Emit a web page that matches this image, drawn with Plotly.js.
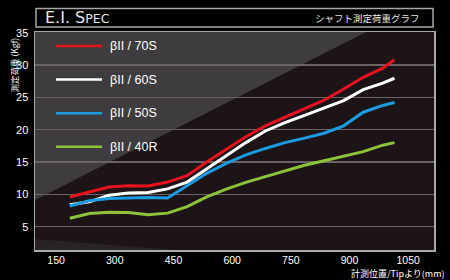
<!DOCTYPE html>
<html><head><meta charset="utf-8">
<script src="https://cdn.plot.ly/plotly-3.0.1.min.js"></script>
<style>html,body{margin:0;padding:0;background:#000;}#chart{width:450px;height:280px;}</style>
</head><body><div id="chart"></div>
<script>
const positions = [185,235,285,335,385,435,485,535,585,635,685,735,785,835,885,935,985,1015];
const seriesNames = ['βII / 70S','βII / 60S','βII / 50S','βII / 40R'];
const red70S   = [9.6,10.4,11.15,11.35,11.3,11.9,12.9,15.0,17.0,18.9,20.6,21.9,23.3,24.55,26.3,28.1,29.5,30.8];
const white60S = [8.4,8.85,9.85,10.2,10.3,10.85,11.9,13.9,16.0,18.0,19.8,21.1,22.2,23.35,24.5,26.2,27.2,27.95];
const blue50S  = [8.2,9.0,9.35,9.45,9.5,9.45,11.3,13.25,14.8,16.1,17.1,18.0,18.7,19.45,20.6,22.7,23.75,24.2];
const green40R = [6.3,7.05,7.25,7.2,6.85,7.1,8.1,9.6,10.8,11.85,12.75,13.6,14.5,15.2,15.9,16.6,17.6,18.0];
const xTicks = [150,300,450,600,750,900,1050];
const yTicks = [5,10,15,20,25,30,35];
const colors = ['#e8121e','#ffffff','#1d9be0','#8dc23a'];
const seriesValues = [red70S, white60S, blue50S, green40R];

const traces = seriesValues.map((v,i)=>({
  x: positions, y: v, type:'scatter', mode:'lines', name: seriesNames[i],
  line:{color:colors[i], width:3}, showlegend:false, hoverinfo:'skip'
}));

const shapes = [
  {type:'path', xref:'x domain', yref:'y domain', path:'M0,0 L0,0.229 L0.83,1 L0,1 Z',
   fillcolor:'#3e3c3e', line:{width:0}, layer:'below'},
  {type:'path', xref:'x domain', yref:'y domain', path:'M0,0 L0,0.05 L0.35,0.0 Z',
   fillcolor:'#2a2325', line:{width:0}, layer:'below'},
  {type:'rect', xref:'paper', yref:'paper',
   x0:(36-35)/399, x1:(433-35)/399, y0:(250-27)/218, y1:(250-8.5)/218,
   line:{color:'#a8a8a8', width:1.5}, fillcolor:'rgba(0,0,0,0)'}
];

const annotations = [];
// manual legend
seriesNames.forEach((n,i)=>{
  const yy = (250 - (46 + i*33.6))/218;
  shapes.push({type:'line', xref:'paper', yref:'paper', x0:(56-35)/399, x1:(102-35)/399, y0:yy, y1:yy,
    line:{color:colors[i], width:2.5}});
  annotations.push({xref:'paper', yref:'paper', x:(108-35)/399, y:yy, xanchor:'left', yanchor:'middle',
    text:n, showarrow:false, font:{family:'Liberation Sans, Arial', size:12.5, color:'#ffffff'}});
});
annotations.push({xref:'paper', yref:'paper', x:(43-35)/399, y:(250-17.5)/218, xanchor:'left', yanchor:'middle',
  text:'E.I. S<span style="font-size:12.5px">PEC</span>', showarrow:false,
  font:{family:'DejaVu Sans', size:16, color:'#e6e6e6'}});
annotations.push({xref:'paper', yref:'paper', x:(422-35)/399, y:(250-17.5)/218, xanchor:'right', yanchor:'middle',
  text:'シャフト測定荷重グラフ', showarrow:false,
  font:{family:'Noto Sans CJK JP', size:9.5, color:'#e6e6e6'}});
annotations.push({xref:'paper', yref:'paper', x:(447-35)/399, y:(250-273.5)/218, xanchor:'right', yanchor:'middle',
  text:'計測位置/Tipより(mm)', showarrow:false,
  font:{family:'Noto Sans CJK JP', size:9, color:'#ffffff'}});
annotations.push({xref:'paper', yref:'paper', x:(13-35)/399, y:(250-36)/218, xanchor:'center', yanchor:'top',
  text:'測定荷重 (Kgf)', textangle:-90, showarrow:false,
  font:{family:'Noto Sans CJK JP', size:8.5, color:'#ffffff'}});

const layout = {
  width:450, height:280,
  margin:{l:35, r:16, t:32, b:30, pad:0},
  paper_bgcolor:'#000000', plot_bgcolor:'#1c1416',
  xaxis:{range:[96,1116], tickvals:xTicks, ticktext:xTicks.map(String), showgrid:false, zeroline:false,
    showline:true, mirror:true, linecolor:'#a9a9a9', linewidth:1.5, ticks:'',
    tickfont:{family:'Liberation Sans, Arial', size:10.5, color:'#ffffff'}},
  yaxis:{range:[1.4,35.1], tickvals:yTicks, ticktext:yTicks.map(String), showgrid:true, gridcolor:'#6a6366',
    gridwidth:1.2, zeroline:false, showline:true, mirror:true, linecolor:'#a9a9a9', linewidth:1.5, ticks:'',
    ticklabelstandoff:3,
    tickfont:{family:'Liberation Sans, Arial', size:11, color:'#ffffff'}},
  shapes: shapes, annotations: annotations, showlegend:false
};
Plotly.newPlot('chart', traces, layout, {staticPlot:true, displayModeBar:false});
</script></body></html>
